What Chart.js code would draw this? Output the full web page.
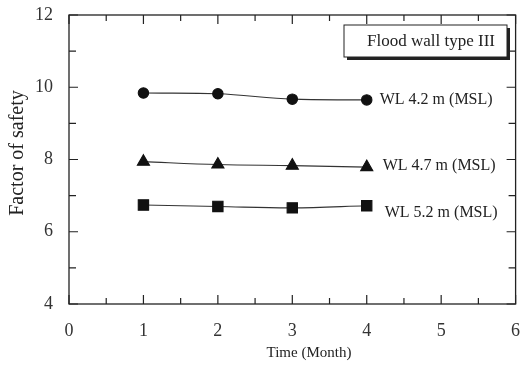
<!DOCTYPE html>
<html lang="en">
<head>
    <meta charset="UTF-8">
    <title>Factor of safety - Flood wall type III</title>
    <script src="https://cdn.jsdelivr.net/npm/chart.js"></script>
    <style>
        html, body { margin: 0; padding: 0; background: #fff; }
        #wrap { width: 524px; height: 367px; }
    </style>
</head>
<body>
    <div id="wrap"><canvas id="fosChart" width="524" height="367"></canvas></div>

    <script>
        // data
        const months = [1, 2, 3, 4];
        const wl42 = [9.84, 9.82, 9.67, 9.65];
        const wl47 = [7.94, 7.86, 7.83, 7.79];
        const wl52 = [6.74, 6.70, 6.66, 6.72];
        const seriesLabels = ["WL 4.2 m (MSL)", "WL 4.7 m (MSL)", "WL 5.2 m (MSL)"];
        const xTicks = [0, 1, 2, 3, 4, 5, 6];
        const yTicks = [4, 6, 8, 10, 12];
        const boxTitle = "Flood wall type III";
        const xTitle = "Time (Month)";
        const yTitle = "Factor of safety";

        const serif = "'Liberation Serif', 'DejaVu Serif', serif";

        function pts(ys) {
            return months.map((m, i) => ({ x: m, y: ys[i] }));
        }

        // inward ticks on all four sides, frame, titles and labels
        const framePlugin = {
            id: 'frame',
            afterDraw(chart) {
                const ctx = chart.ctx;
                const a = chart.chartArea;
                const xs = chart.scales.x, ys = chart.scales.y;
                ctx.save();
                ctx.strokeStyle = '#222';
                ctx.lineWidth = 1.3;
                ctx.strokeRect(a.left, a.top, a.right - a.left, a.bottom - a.top);

                ctx.lineWidth = 1.2;
                for (let v = 0; v <= 6; v += 0.5) {
                    const px = xs.getPixelForValue(v);
                    const len = Number.isInteger(v) ? 9 : 6;
                    ctx.beginPath();
                    ctx.moveTo(px, a.bottom); ctx.lineTo(px, a.bottom - len);
                    ctx.moveTo(px, a.top); ctx.lineTo(px, a.top + len);
                    ctx.stroke();
                }
                for (let v = 4; v <= 12; v += 1) {
                    const py = ys.getPixelForValue(v);
                    const len = v % 2 === 0 ? 9 : 7;
                    ctx.beginPath();
                    ctx.moveTo(a.left, py); ctx.lineTo(a.left + len, py);
                    ctx.moveTo(a.right, py); ctx.lineTo(a.right - len, py);
                    ctx.stroke();
                }

                ctx.fillStyle = '#222';
                ctx.textBaseline = 'middle';

                // axis titles
                ctx.font = "15px " + serif;
                ctx.textAlign = 'center';
                ctx.fillText(xTitle, 309, 353);
                ctx.save();
                ctx.translate(18, 153);
                ctx.rotate(-Math.PI / 2);
                ctx.font = "20px " + serif;
                ctx.fillText(yTitle, 0, 0);
                ctx.restore();

                // series labels
                ctx.font = "16px " + serif;
                ctx.textAlign = 'left';
                const lx = xs.getPixelForValue(4) + 13;
                ctx.fillText(seriesLabels[0], lx, ys.getPixelForValue(wl42[3]));
                ctx.fillText(seriesLabels[1], lx + 3, ys.getPixelForValue(wl47[3]) - 1);
                ctx.fillText(seriesLabels[2], lx + 5, ys.getPixelForValue(wl52[3]) + 7);

                // title box with shadow
                const bx = 344, by = 25, bw = 163, bh = 32;
                ctx.fillStyle = '#222';
                ctx.fillRect(bx + 3, by + 3, bw, bh);
                ctx.fillStyle = '#fff';
                ctx.fillRect(bx, by, bw, bh);
                ctx.lineWidth = 1;
                ctx.strokeStyle = '#222';
                ctx.strokeRect(bx, by, bw, bh);
                ctx.fillStyle = '#222';
                ctx.font = "17px " + serif;
                ctx.textAlign = 'right';
                ctx.fillText(boxTitle, bx + bw - 12, by + bh / 2 + 1);
                ctx.restore();
            }
        };

        const common = {
            borderColor: '#333',
            backgroundColor: '#111',
            borderWidth: 1.1,
            tension: 0.35,
            pointBorderColor: '#111'
        };

        new Chart(document.getElementById('fosChart'), {
            type: 'line',
            data: {
                datasets: [
                    { ...common, label: seriesLabels[0], data: pts(wl42), pointStyle: 'circle', pointRadius: 5.2 },
                    { ...common, label: seriesLabels[1], data: pts(wl47), pointStyle: 'triangle', pointRadius: 7 },
                    { ...common, label: seriesLabels[2], data: pts(wl52), pointStyle: 'rect', pointRadius: 7.3 }
                ]
            },
            options: {
                responsive: false,
                animation: false,
                layout: { padding: { left: 0, top: 15, right: 6, bottom: 0 } },
                plugins: { legend: { display: false }, tooltip: { enabled: false } },
                scales: {
                    x: {
                        type: 'linear', min: 0, max: 6,
                        afterFit: s => { s.height = 63; s.paddingLeft = 0; s.paddingRight = 0; },
                        afterBuildTicks: s => { s.ticks = xTicks.map(v => ({ value: v })); },
                        grid: { display: false },
                        border: { display: false },
                        ticks: { color: '#333', font: { family: serif, size: 18 }, padding: 8 }
                    },
                    y: {
                        min: 4, max: 12,
                        afterFit: s => { s.width = 69; s.paddingTop = 0; s.paddingBottom = 0; },
                        afterBuildTicks: s => { s.ticks = yTicks.map(v => ({ value: v })); },
                        grid: { display: false },
                        border: { display: false },
                        ticks: { color: '#333', font: { family: serif, size: 18 }, padding: 8 }
                    }
                }
            },
            plugins: [framePlugin]
        });
    </script>
</body>
</html>
